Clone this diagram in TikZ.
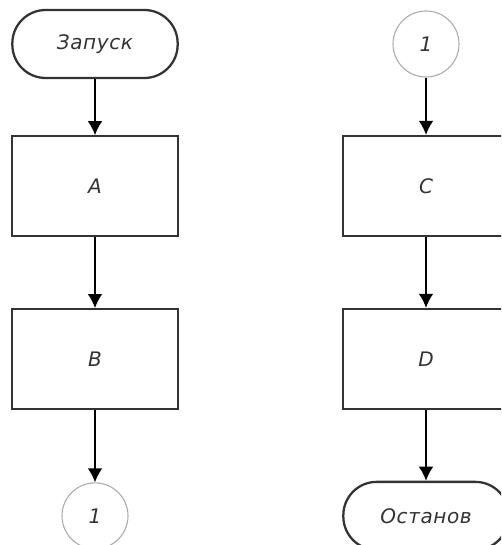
\documentclass[tikz,border=0pt]{standalone}
\usepackage{fontspec}
\setmainfont{DejaVu Sans}[LetterSpace=3]
\usetikzlibrary{arrows.meta,positioning}
\definecolor{edge}{HTML}{333333}
\definecolor{ring}{HTML}{AAAAAA}
\tikzset{>={Latex[length=10.5pt,width=11pt]}, line/.style={line width=1.1pt},
box/.style={draw=edge, line width=1.7pt, minimum width=124pt, minimum height=75pt, align=center, text=edge, font=\fontsize{15}{18}\selectfont\itshape},
term/.style={box, rounded corners=25pt, minimum height=51pt},
conn/.style={circle, draw=ring, line width=0.8pt, minimum size=49.5pt, text=edge, font=\fontsize{15}{18}\selectfont\itshape}}

\begin{document}
\begin{tikzpicture}[x=0.75pt, y=-0.75pt]
\useasboundingbox (0,0) rectangle (501,545);
\clip (0,0) rectangle (501,545);
% Left column
\node[term] (start) at (95,44) {Запуск};
\node[box, below=42pt of start] (a) {A};
\node[box, below=53pt of a] (b) {B};
\node[conn, below=54pt of b] (outA) {1};

% Right column
\node[conn] (inA) at (426,44) {1};
\node[box, below=43pt of inA] (c) {C};
\node[box, below=53pt of c] (d) {D};
\node[term, below=53pt of d] (stop) {Останов};

% Arrows
\draw[->,line] (start) -- (a);
\draw[->,line] (a) -- (b);
\draw[->,line] (b) -- (outA);
\draw[->,line] (inA) -- (c);
\draw[->,line] (c) -- (d);
\draw[->,line] (d) -- (stop);
\end{tikzpicture}
\end{document}
